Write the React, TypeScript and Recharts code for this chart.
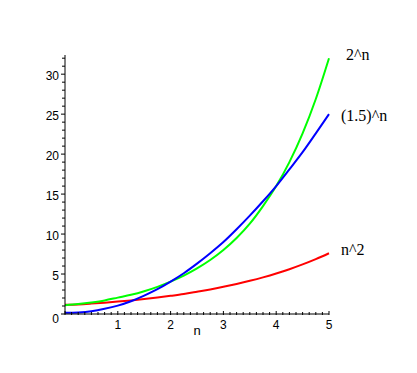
import React from 'react';
import { LineChart, Line, XAxis, YAxis, LabelList } from 'recharts';

const nValues = [0, 0.25, 0.5, 0.75, 1, 1.25, 1.5, 1.75, 2, 2.25, 2.5, 2.75, 3, 3.25, 3.5, 3.75, 4, 4.25, 4.5, 4.75, 5];
const greenValues = [1.1, 1.25, 1.45, 1.7, 2.05, 2.4, 2.85, 3.4, 4.05, 4.8, 5.7, 6.75, 8.0, 9.5, 11.3, 13.5, 16.0, 19.0, 22.6, 26.9, 32.0];
const blueValues = [0.15, 0.2, 0.35, 0.65, 1.05, 1.6, 2.3, 3.1, 4.05, 5.1, 6.3, 7.6, 9.0, 10.6, 12.3, 14.1, 16.0, 18.1, 20.25, 22.6, 25.0];
const redValues = [1.15, 1.2, 1.3, 1.42, 1.55, 1.7, 1.87, 2.06, 2.27, 2.5, 2.78, 3.07, 3.4, 3.76, 4.15, 4.58, 5.06, 5.6, 6.2, 6.86, 7.6];

const seriesLabels = ['2^n', '(1.5)^n', 'n^2'];
const xTicks = Array.from({ length: 41 }, (_, i) => i * 0.125);
const yTicks = Array.from({ length: 33 }, (_, i) => i);
const xLabelTicks = [1, 2, 3, 4, 5];
const yLabelTicks = [0, 5, 10, 15, 20, 25, 30];
const xAxisTitle = 'n';

const data = nValues.map((n, i) => ({ n, g: greenValues[i], b: blueValues[i], r: redValues[i] }));

const tickFont = '"Liberation Sans", Arial, sans-serif';

const XTick = (props: any) => {
  const { x, y, payload } = props;
  const v = payload.value;
  const major = Math.abs(v - Math.round(v)) < 1e-6;
  return (
    <g>
      <line x1={x} x2={x} y1={y - (major ? 3 : 2)} y2={y + 1} stroke="#000" strokeWidth={1} />
      {major && xLabelTicks.includes(Math.round(v)) && (
        <text x={x} y={y + 15} textAnchor="middle" fontSize={12} fontFamily={tickFont} fill="#000">
          {Math.round(v)}
        </text>
      )}
    </g>
  );
};

const YTick = (props: any) => {
  const { x, y, payload } = props;
  const v = payload.value;
  const major = yLabelTicks.includes(v);
  return (
    <g>
      <line x1={x - (major ? 4 : 3)} x2={x} y1={y} y2={y} stroke="#000" strokeWidth={1} />
      {major && (
        <text x={x - 6} y={y + (v === 0 ? 9 : 6)} textAnchor="end" fontSize={12} fontFamily={tickFont} fill="#000">
          {v}
        </text>
      )}
    </g>
  );
};

const makeEndLabel = (text: string, dx: number, dy: number) => (props: any) => {
  const { x, y, index } = props;
  if (index !== data.length - 1) return null;
  return (
    <text x={x + dx} y={y + dy} fontSize={16} fontFamily='"Liberation Serif", "Times New Roman", serif' fill="#000">
      {text}
    </text>
  );
};

const AxisTitle = (props: any) => {
  const { viewBox } = props;
  return (
    <text x={viewBox.x + viewBox.width / 2} y={viewBox.y + 21} textAnchor="middle" fontSize={13} fontFamily={tickFont} fill="#000">
      {xAxisTitle}
    </text>
  );
};

export default function App() {
  return (
    <div style={{ position: 'absolute', left: 0, top: 0, background: '#fff' }}>
      <LineChart width={417} height={373} data={data} margin={{ top: 55, right: 88, bottom: 0, left: 0 }}>
        <XAxis
          dataKey="n"
          type="number"
          domain={[0, 5]}
          ticks={xTicks}
          interval={0}
          height={59}
          tickSize={0}
          tickMargin={0}
          tickLine={false}
          axisLine={{ stroke: '#000' }}
          tick={<XTick />}
          label={<AxisTitle />}
        />
        <YAxis
          type="number"
          domain={[0, 32.4]}
          ticks={yTicks}
          interval={0}
          width={65}
          tickSize={0}
          tickMargin={0}
          tickLine={false}
          axisLine={{ stroke: '#000' }}
          tick={<YTick />}
        />
        <Line dataKey="r" type="monotone" stroke="#ff0000" strokeWidth={2} dot={false} isAnimationActive={false}>
          <LabelList dataKey="r" content={makeEndLabel(seriesLabels[2], 12, 2)} />
        </Line>
        <Line dataKey="g" type="monotone" stroke="#00ff00" strokeWidth={2} dot={false} isAnimationActive={false}>
          <LabelList dataKey="g" content={makeEndLabel(seriesLabels[0], 17, 2)} />
        </Line>
        <Line dataKey="b" type="monotone" stroke="#0000ff" strokeWidth={2} dot={false} isAnimationActive={false}>
          <LabelList dataKey="b" content={makeEndLabel(seriesLabels[1], 12, 7)} />
        </Line>
      </LineChart>
    </div>
  );
}
